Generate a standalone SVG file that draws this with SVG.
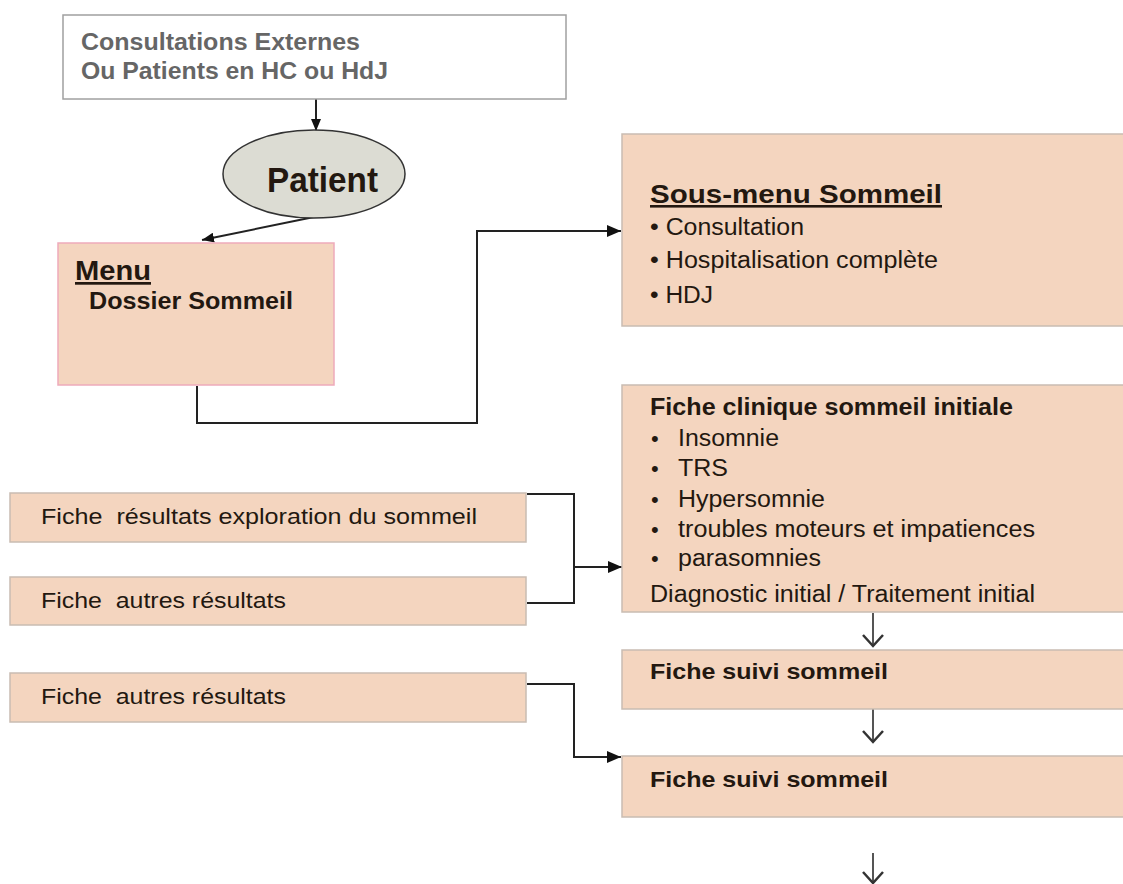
<svg xmlns="http://www.w3.org/2000/svg" width="1123" height="884" viewBox="0 0 1123 884">
<defs>
<style>
text{font-family:"Liberation Sans",Arial,sans-serif;fill:#231810;white-space:pre}
.b{font-weight:bold}
.u{text-decoration:underline}
.box{fill:#f4d5bf;stroke:#c9bcb2;stroke-width:1.5}
.conn{fill:none;stroke:#222;stroke-width:2}
.down{fill:none;stroke:#555;stroke-width:2}
</style>
<marker id="ah" markerUnits="userSpaceOnUse" markerWidth="14" markerHeight="12" refX="14" refY="6" orient="auto"><path d="M0,0 L14,6 L0,12 z" fill="#111"/></marker>
<marker id="ahs" markerUnits="userSpaceOnUse" markerWidth="12" markerHeight="10" refX="12" refY="5" orient="auto"><path d="M0,0 L12,5 L0,10 z" fill="#111"/></marker>
<marker id="av" markerUnits="userSpaceOnUse" markerWidth="14" markerHeight="22" refX="12" refY="11" orient="auto"><path d="M1,1 L12,11 L1,21" fill="none" stroke="#333" stroke-width="2.5"/></marker>
</defs>
<rect width="1123" height="884" fill="#fff"/>

<g id="connectors">
<path class="conn" d="M316,99 L316,131" marker-end="url(#ahs)"/>
<path class="conn" d="M314,217 L202,240" marker-end="url(#ahs)"/>
<path class="conn" d="M197,386 L197,423 L477,423 L477,231 L621,231" marker-end="url(#ah)"/>
<path class="conn" d="M527,494 L574,494 L574,603 L527,603"/>
<path class="conn" d="M574,567 L622,567" marker-end="url(#ah)"/>
<path class="conn" d="M527,684 L574,684 L574,757 L621,757" marker-end="url(#ah)"/>
<path class="down" d="M873,613 L873,646" marker-end="url(#av)"/>
<path class="down" d="M873,709 L873,742" marker-end="url(#av)"/>
<path class="down" d="M873,853 L873,883" marker-end="url(#av)"/>
</g>

<g id="source">
<rect x="63" y="15" width="503" height="84" fill="#fff" stroke="#a0a0a0" stroke-width="1.5"/>
<text class="b" x="81" y="50" font-size="23" style="fill:#666" textLength="279" lengthAdjust="spacingAndGlyphs">Consultations Externes</text>
<text class="b" x="81" y="79" font-size="23" style="fill:#666" textLength="307" lengthAdjust="spacingAndGlyphs">Ou Patients en HC ou HdJ</text>
</g>

<g id="patient">
<ellipse cx="314" cy="174" rx="91" ry="44" fill="#dcdcd3" stroke="#333" stroke-width="1.5"/>
<text class="b" x="267" y="192" font-size="35" textLength="111" lengthAdjust="spacingAndGlyphs">Patient</text>
</g>

<g id="menu">
<rect x="58" y="243" width="276" height="142" fill="#f4d5bf" stroke="#eeaabb" stroke-width="1.5"/>
<text class="b u" x="75" y="280" font-size="27" textLength="76" lengthAdjust="spacingAndGlyphs">Menu</text>
<text class="b" x="89" y="309" font-size="23" textLength="204" lengthAdjust="spacingAndGlyphs">Dossier Sommeil</text>
</g>

<g id="sousmenu">
<rect class="box" x="622" y="134" width="510" height="192"/>
<text class="b u" x="650" y="203" font-size="26" textLength="292" lengthAdjust="spacingAndGlyphs">Sous-menu Sommeil</text>
<text x="650" y="235" font-size="23" textLength="154" lengthAdjust="spacingAndGlyphs">• Consultation</text>
<text x="650" y="268" font-size="23" textLength="288" lengthAdjust="spacingAndGlyphs">• Hospitalisation complète</text>
<text x="650" y="303" font-size="23" textLength="63" lengthAdjust="spacingAndGlyphs">• HDJ</text>
</g>

<g id="fiche-clinique">
<rect class="box" x="622" y="385" width="510" height="227"/>
<text class="b" x="650" y="415" font-size="23" textLength="363" lengthAdjust="spacingAndGlyphs">Fiche clinique sommeil initiale</text>
<text x="651" y="446" font-size="22">•</text>
<text x="678" y="446" font-size="23" textLength="101" lengthAdjust="spacingAndGlyphs">Insomnie</text>
<text x="651" y="476" font-size="22">•</text>
<text x="678" y="476" font-size="23" textLength="50" lengthAdjust="spacingAndGlyphs">TRS</text>
<text x="651" y="507" font-size="22">•</text>
<text x="678" y="507" font-size="23" textLength="147" lengthAdjust="spacingAndGlyphs">Hypersomnie</text>
<text x="651" y="537" font-size="22">•</text>
<text x="678" y="537" font-size="23" textLength="357" lengthAdjust="spacingAndGlyphs">troubles moteurs et impatiences</text>
<text x="651" y="566" font-size="22">•</text>
<text x="678" y="566" font-size="23" textLength="143" lengthAdjust="spacingAndGlyphs">parasomnies</text>
<text x="650" y="602" font-size="23" textLength="385" lengthAdjust="spacingAndGlyphs">Diagnostic initial / Traitement initial</text>
</g>

<g id="fiche-exploration">
<rect class="box" x="10" y="493" width="516" height="49"/>
<text x="41" y="524" font-size="22" textLength="436" lengthAdjust="spacingAndGlyphs">Fiche  résultats exploration du sommeil</text>
</g>

<g id="fiche-autres-1">
<rect class="box" x="10" y="577" width="516" height="48"/>
<text x="41" y="608" font-size="22" textLength="245" lengthAdjust="spacingAndGlyphs">Fiche  autres résultats</text>
</g>

<g id="fiche-autres-2">
<rect class="box" x="10" y="673" width="516" height="49"/>
<text x="41" y="704" font-size="22" textLength="245" lengthAdjust="spacingAndGlyphs">Fiche  autres résultats</text>
</g>

<g id="fiche-suivi-1">
<rect class="box" x="622" y="650" width="510" height="59"/>
<text class="b" x="650" y="679" font-size="22" textLength="238" lengthAdjust="spacingAndGlyphs">Fiche suivi sommeil</text>
</g>

<g id="fiche-suivi-2">
<rect class="box" x="622" y="756" width="510" height="61"/>
<text class="b" x="650" y="787" font-size="22" textLength="238" lengthAdjust="spacingAndGlyphs">Fiche suivi sommeil</text>
</g>
</svg>
